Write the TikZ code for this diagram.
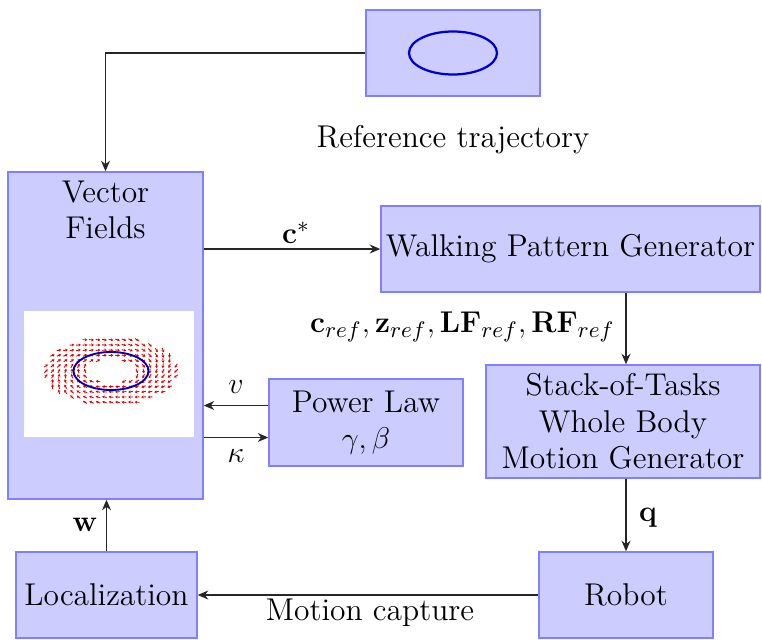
\documentclass[tikz,border=0pt]{standalone}
\usetikzlibrary{arrows.meta}
\begin{document}
\begin{tikzpicture}[x=0.4pt,y=-0.4pt,
  box/.style={draw=blue!50, fill=blue!20, line width=0.6pt, inner sep=0pt, align=center, font=\fontsize{12.6}{14.6}\selectfont},
  lbl/.style={inner sep=0pt, align=center, font=\fontsize{12.6}{14.6}\selectfont},
  conn/.style={line width=0.55pt, draw=black!85, -{Stealth[length=4.2pt,width=3.6pt]}},
  vfa/.style={red!85!black, line width=0.35pt, -{Stealth[length=1pt,width=1.2pt]}},
  traj/.style={draw=blue!80!black, line width=0.9pt}]
\useasboundingbox (0,0) rectangle (762,640);
% boxes
\node[box, minimum width=69.6pt, minimum height=34.4pt] (top) at (453,53) {};
\draw[traj] (top.center) ellipse [x radius=17.6pt, y radius=8.6pt];
\node[lbl] (reftxt) at (453,140) {Reference trajectory};
\node[box, minimum width=78pt, minimum height=130.8pt] (vf) at (105.5,335.5) {};
\node[lbl, anchor=north] (vftxt) at (105.5,180) {Vector\\Fields};
\node[fill=white, inner sep=0pt, minimum width=68pt, minimum height=50.4pt] (vfimg) at (109,374) {};
\foreach \i in {-10,...,10}{
  \foreach \j in {-7,...,7}{
    \pgfmathsetmacro\uu{\i*6.5/37.5}
    \pgfmathsetmacro\vv{\j*5.2/19}
    \pgfmathsetmacro\rr{sqrt(\uu*\uu+\vv*\vv)}
    \pgfmathtruncatemacro\ok{and(\rr>0.6,\rr<1.8)}
    \ifnum\ok=1
      \pgfmathsetmacro\ddx{-\vv*37.5+0.7*(1-\rr)*\uu*37.5}
      \pgfmathsetmacro\ddy{\uu*19+0.7*(1-\rr)*\vv*19}
      \pgfmathsetmacro\nn{sqrt(\ddx*\ddx+\ddy*\ddy)}
      \draw[vfa] ({111+\i*6.5-2.3*\ddx/\nn},{371+\j*5.2-2.3*\ddy/\nn}) -- ++({4.6*\ddx/\nn},{4.6*\ddy/\nn});
    \fi
  }
}
\draw[traj, draw=blue!70!black, line width=0.75pt] (111,371) ellipse [x radius=15pt, y radius=7.6pt];
\node[box, minimum width=151.6pt, minimum height=34.4pt] (wpg) at (570.5,249) {Walking Pattern Generator};
\node[box, minimum width=109.6pt, minimum height=45.2pt] (sot) at (623,421.5) {Stack-of-Tasks\\Whole Body\\Motion Generator};
\node[box, minimum width=77.6pt, minimum height=34.8pt] (pl) at (366,422.5) {Power Law\\$\gamma,\beta$};
\node[box, minimum width=69.6pt, minimum height=34.4pt] (robot) at (626,595) {Robot};
\node[box, minimum width=72.4pt, minimum height=34.4pt] (loc) at (106.5,595) {Localization};
% connectors
\draw[conn] (top.west) -| (vf.north);
\draw[conn] (vf.east |- wpg.west) -- (wpg.west);
\node[lbl] (cstar) at (296,233) {$\mathbf{c}^{*}$};
\draw[conn] (wpg.south -| robot.north) -- (sot.north -| robot.north);
\node[lbl, anchor=east] (crefs) at (615,327) {$\mathbf{c}_{ref},\mathbf{z}_{ref},\mathbf{LF}_{ref},\mathbf{RF}_{ref}$};
\draw[conn] ([yshift=6.8pt]pl.west) -- ([yshift=6.8pt]pl.west -| vf.east);
\node[lbl] (vlab) at (236,387) {$v$};
\draw[conn] ([yshift=-6pt]pl.west -| vf.east) -- ([yshift=-6pt]pl.west);
\node[lbl] (klab) at (236,456) {$\kappa$};
\draw[conn] (sot.south -| robot.north) -- (robot.north);
\node[lbl] (qlab) at (648,518) {$\mathbf{q}$};
\draw[conn] (robot.west) -- (loc.east);
\node[lbl] (mocap) at (370,613) {Motion capture};
\draw[conn] (loc.north) -- (loc.north |- vf.south);
\node[lbl] (wlab) at (85,525) {$\mathbf{w}$};
\end{tikzpicture}
\end{document}
